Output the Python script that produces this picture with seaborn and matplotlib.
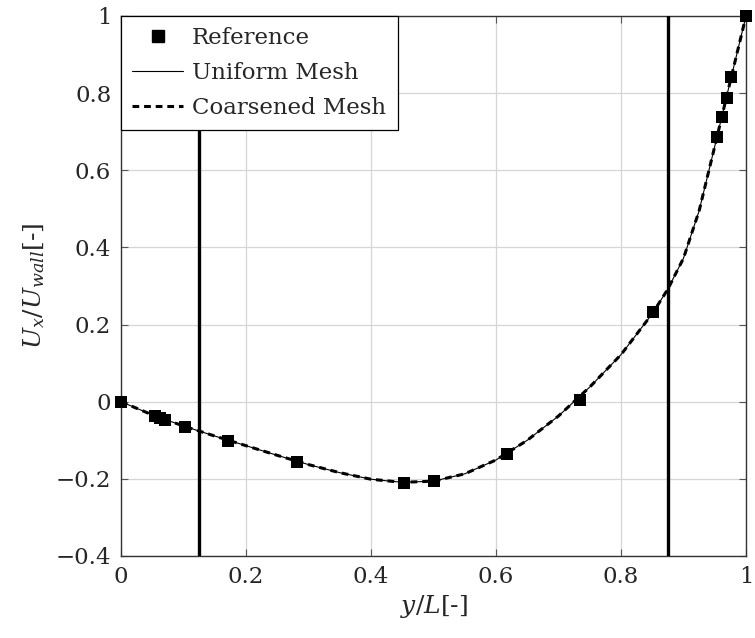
import matplotlib
matplotlib.use("Agg")
import matplotlib.pyplot as plt
import seaborn as sns
import pandas as pd
from matplotlib.lines import Line2D

# Reference data (markers)
ref_y = [0.0, 0.0547, 0.0625, 0.0703, 0.1016, 0.1719, 0.2813, 0.4531, 0.5000,
         0.6172, 0.7344, 0.8516, 0.9531, 0.9609, 0.9688, 0.9766, 1.0]
ref_u = [0.0, -0.0372, -0.0419, -0.0478, -0.0643, -0.1015, -0.1566, -0.2109, -0.2058,
         -0.1364, 0.0033, 0.2315, 0.6872, 0.7372, 0.7887, 0.8412, 1.0]

# Simulation curves
sim_y = [0.0, 0.05, 0.1, 0.15, 0.2, 0.25, 0.3, 0.35, 0.4, 0.45, 0.5, 0.55, 0.6,
         0.65, 0.7, 0.75, 0.8, 0.85, 0.875, 0.9, 0.925, 0.95, 0.975, 1.0]
uniform_u = [0.0, -0.034, -0.063, -0.089, -0.114, -0.139, -0.163, -0.184, -0.201,
             -0.209, -0.206, -0.187, -0.151, -0.100, -0.037, 0.038, 0.122, 0.228,
             0.292, 0.372, 0.495, 0.662, 0.832, 1.0]
coarse_u = [0.0, -0.034, -0.063, -0.089, -0.114, -0.139, -0.163, -0.184, -0.201,
            -0.209, -0.206, -0.187, -0.151, -0.100, -0.037, 0.038, 0.122, 0.228,
            0.292, 0.372, 0.495, 0.662, 0.832, 1.0]

vlines_x = [0.125, 0.875]
xticks = [0, 0.2, 0.4, 0.6, 0.8, 1.0]
xtick_labels = ["0", "0.2", "0.4", "0.6", "0.8", "1"]
yticks = [-0.4, -0.2, 0, 0.2, 0.4, 0.6, 0.8, 1.0]
ytick_labels = ["\u22120.4", "\u22120.2", "0", "0.2", "0.4", "0.6", "0.8", "1"]

sns.set_theme(style="whitegrid")
plt.rcParams["font.family"] = ["DejaVu Serif"]
plt.rcParams["mathtext.fontset"] = "dejavuserif"

fig = plt.figure(figsize=(7.55, 6.38), dpi=100)
ax = fig.add_axes([121/755, 1-556/638, (746-121)/755, (556-16)/638])

df_uni = pd.DataFrame({"y": sim_y, "u": uniform_u})
df_coa = pd.DataFrame({"y": sim_y, "u": coarse_u})
df_ref = pd.DataFrame({"y": ref_y, "u": ref_u})

for xv in vlines_x:
    ax.axvline(xv, color="black", lw=2.4, zorder=3)

sns.lineplot(data=df_uni, x="y", y="u", ax=ax, color="black", lw=0.8, zorder=4)
sns.lineplot(data=df_coa, x="y", y="u", ax=ax, color="black", lw=2.2,
             linestyle=(0, (2.2, 1.6)), zorder=5)
sns.scatterplot(data=df_ref, x="y", y="u", ax=ax, marker="s", s=85, color="black",
                edgecolor="black", linewidth=0, zorder=6, clip_on=False)

ax.set_xlim(0, 1)
ax.set_ylim(-0.4, 1.0)
ax.set_xticks(xticks)
ax.set_xticklabels(xtick_labels)
ax.set_yticks(yticks)
ax.set_yticklabels(ytick_labels)
ax.tick_params(axis="both", labelsize=16.5, direction="in", length=5, width=0.8,
               color="#555555", top=True, right=True, bottom=True, left=True, pad=7)
ax.grid(True, color="#d6d6d6", lw=0.9)
for s in ax.spines.values():
    s.set_color("#333333")
    s.set_linewidth(1.0)

ax.set_xlabel(r"$y/L$[-]", fontsize=18, labelpad=4)
ax.set_ylabel(r"$U_x/U_{wall}$[-]", fontsize=18, labelpad=6)

handles = [
    Line2D([], [], marker="s", color="black", linestyle="none", markersize=9),
    Line2D([], [], color="black", lw=0.8),
    Line2D([], [], color="black", lw=2.2, linestyle=(0, (2.2, 1.6))),
]
leg = ax.legend(handles, ["Reference", "Uniform Mesh", "Coarsened Mesh"],
                loc="upper left", fontsize=16.5, frameon=True, fancybox=False,
                borderaxespad=0, handlelength=2.2, handletextpad=0.4,
                borderpad=0.5, labelspacing=0.55)
leg.get_frame().set_edgecolor("black")
leg.get_frame().set_linewidth(0.9)
leg.get_frame().set_alpha(1)
leg.set_zorder(10)

fig.savefig("out.png", dpi=100)
